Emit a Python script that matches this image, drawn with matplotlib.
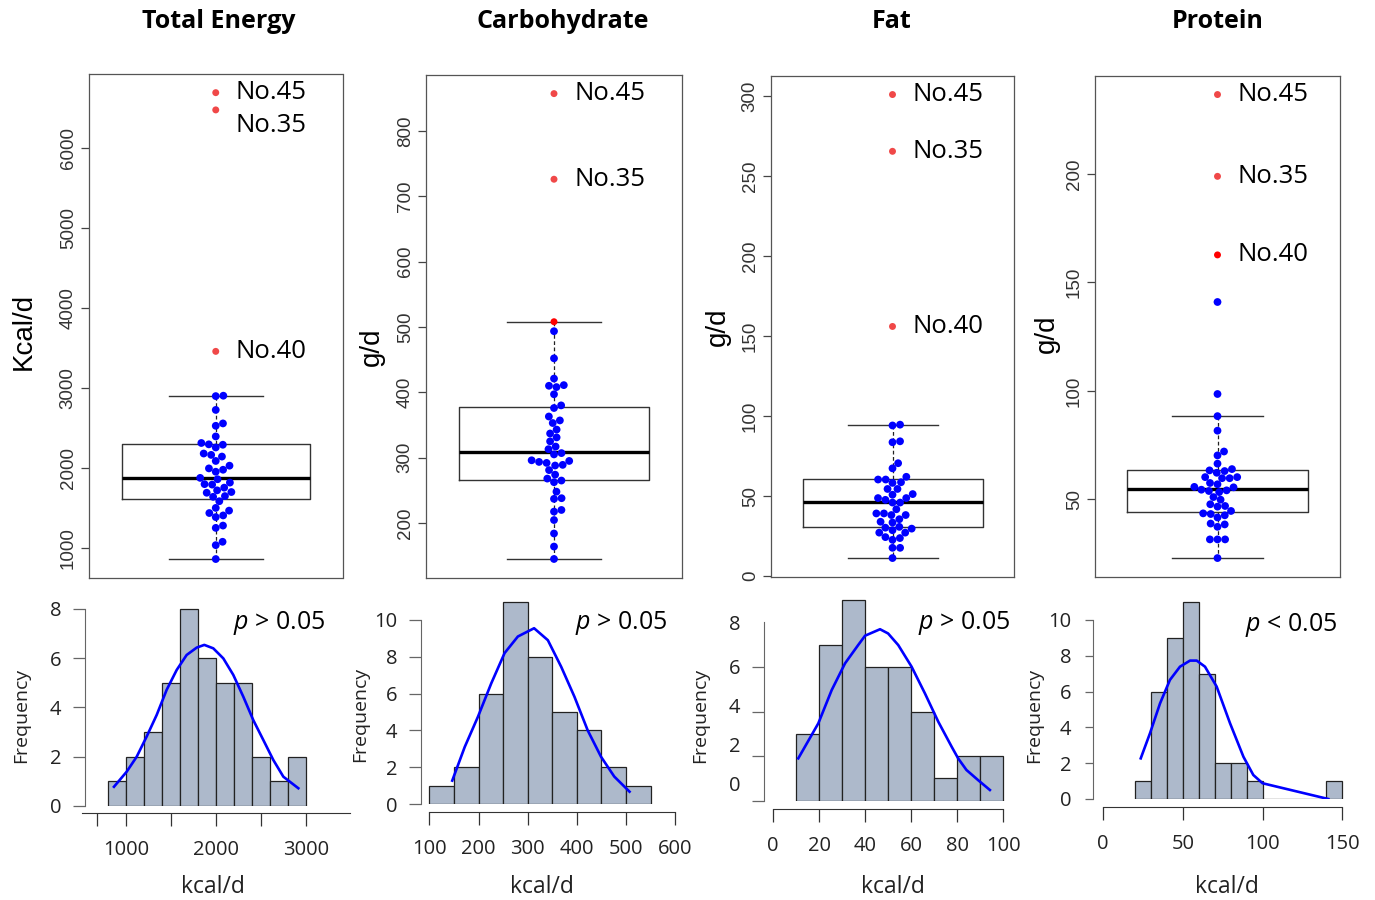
import numpy as np
import matplotlib
matplotlib.use("Agg")
import matplotlib.pyplot as plt

plt.rcParams['mathtext.fontset'] = 'custom'
plt.rcParams['mathtext.it'] = 'Open Sans:italic'
plt.rcParams['mathtext.rm'] = 'Open Sans'

W, H = 1375, 900

# ---------------- data ----------------
titles = ["Total Energy", "Carbohydrate", "Fat", "Protein"]
box_ylabels = ["Kcal/d", "g/d", "g/d", "g/d"]
hist_xlabel = "kcal/d"
p_texts = [r"$\it{p}$ > 0.05", r"$\it{p}$ > 0.05", r"$\it{p}$ > 0.05", r"$\it{p}$ < 0.05"]

energy_vals = [2900, 2905, 2727, 2528, 2558, 2395, 2313, 2296, 2257, 2291, 2181, 2164,
               2143, 2088, 2029, 1995, 1978, 1953, 1876, 1859, 1798, 1817, 1792, 1754,
               1720, 1699, 1690, 1648, 1639, 1584, 1500, 1466, 1436, 1406, 1385, 1279,
               1250, 1076, 1034, 860]
carb_vals = [493.5, 452, 421, 410, 408, 411, 397, 380, 376, 363, 357, 353, 343, 337, 331,
             325, 317, 313, 307, 305, 296, 292, 289, 288, 293.5, 295, 281, 274, 268, 265,
             262.5, 248, 238, 237, 220, 217.5, 204.6, 184, 164, 145]
fat_vals = [94.1, 94.6, 83.6, 84.2, 70.5, 67.3, 62, 60.3, 60.3, 58.6, 58.2, 54.4, 54.4,
            51.2, 50.8, 48.7, 48.7, 47.6, 45.9, 45.9, 41.7, 39.1, 39.1, 38.1, 38.1, 35.5,
            33.9, 33.4, 30.2, 29.6, 30.7, 28.6, 27.1, 27.1, 24.3, 23.7, 22.6, 17.6, 17.6, 11.2]
protein_vals = [141, 98.6, 88.4, 81.7, 72.1, 70.3, 66.5, 64.0, 63.4, 63.1, 62.3, 60.3, 59.8,
                59.8, 60.3, 57.6, 57, 55.8, 55.6, 54.5, 54.2, 53.9, 53.4, 51.1, 49.9, 47.8,
                47, 46.7, 44.7, 43.6, 43.3, 42.7, 41.7, 38.9, 38.5, 37.4, 31.6, 31.6, 31.6, 23]

energy_out = [6699, 6483, 3460]
carb_out = [857, 726, 508]
fat_out = [301, 265.5, 156]
protein_out = [236.6, 198.9, 162.7]
energy_out_labels = ["No.45", "No.35", "No.40"]
carb_out_labels = ["No.45", "No.35", ""]
fat_out_labels = ["No.45", "No.35", "No.40"]
protein_out_labels = ["No.45", "No.35", "No.40"]

# box stats: q1, median, q3, whisker low, whisker high
energy_box = [1610, 1872, 2296, 860, 2905]
carb_box = [266, 308.5, 377.8, 145, 508]
fat_box = [30.5, 46.5, 60.5, 11.2, 94.6]
protein_box = [44.4, 55.0, 63.6, 23.0, 88.4]

energy_yticks = [1000, 2000, 3000, 4000, 5000, 6000]
carb_yticks = [200, 300, 400, 500, 600, 700, 800]
fat_yticks = [0, 50, 100, 150, 200, 250, 300]
protein_yticks = [50, 100, 150, 200]

# histograms
energy_edges = [800, 1000, 1200, 1400, 1600, 1800, 2000, 2200, 2400, 2600, 2800, 3000]
energy_counts = [1, 2, 3, 5, 8, 6, 5, 5, 2, 1, 2]
carb_edges = [100, 150, 200, 250, 300, 350, 400, 450, 500, 550]
carb_counts = [1, 2, 6, 11, 8, 5, 4, 2, 1]
fat_edges = [10, 20, 30, 40, 50, 60, 70, 80, 90, 100]
fat_counts = [3, 7, 9, 6, 6, 4, 1, 2, 2]
protein_edges = [20, 30, 40, 50, 60, 70, 80, 90, 100, 110, 120, 130, 140, 150]
protein_counts = [1, 6, 9, 11, 7, 2, 2, 1, 0, 0, 0, 0, 1]

energy_curve_x = [863, 1004, 1116, 1227, 1339, 1450, 1562, 1673, 1785, 1870, 1970, 2082,
                  2193, 2305, 2416, 2528, 2639, 2751, 2918]
energy_curve_y = [0.77, 1.38, 1.99, 2.81, 3.69, 4.71, 5.52, 6.13, 6.43, 6.54, 6.40, 5.99,
                  5.32, 4.43, 3.48, 2.67, 1.86, 1.18, 0.71]
carb_curve_x = [146.6, 172, 199, 226, 253, 280, 313, 341, 368, 395, 422, 449, 476, 507]
carb_curve_y = [1.27, 3.1, 4.75, 6.56, 8.2, 9.1, 9.55, 8.9, 7.46, 5.83, 4.0, 2.57, 1.49, 0.67]
fat_curve_x = [11, 19.7, 25.5, 31.3, 37, 40, 46.5, 50, 54.4, 60.2, 66, 71.8, 77.6, 80.4,
               84, 89, 94.2]
fat_curve_y = [1.9, 3.47, 4.96, 6.16, 6.98, 7.4, 7.69, 7.5, 6.98, 6.01, 4.81, 3.54, 2.42,
               1.9, 1.38, 0.93, 0.48]
protein_curve_x = [23.6, 29.4, 35.7, 41.9, 48.2, 54.5, 58.7, 63.9, 71.2, 79.6, 88, 94.2, 100, 141.2]
protein_curve_y = [2.27, 3.67, 5.34, 6.65, 7.39, 7.73, 7.73, 7.39, 6.28, 4.23, 2.36, 1.34, 0.88, 0.0]

energy_xticks = [671, 1000, 1500, 2000, 2500, 3000]
energy_xticklabels = ["", "1000", "", "2000", "", "3000"]
carb_xticks = [100, 200, 300, 400, 500, 600]
fat_xticks = [0, 20, 40, 60, 80, 100]
protein_xticks = [0, 50, 100, 150]
energy_hyticks = [0, 2, 4, 6, 8]
carb_hyticks = [0, 2, 4, 6, 8, 10]
fat_hyticks = [0, 2, 4, 6, 8]
fat_hytick_label_pos = [0.78, 2.54, 4.29, 6.04, 8.0]
protein_hyticks = [0, 2, 4, 6, 8, 10]

# ---------------- styling / layout ----------------
LIGHT_RED = '#F04848'
PURE_RED = '#FF0000'
BLUE = '#0000FF'
BAR = '#ADB9CB'
out_colors = [[LIGHT_RED] * 3, [LIGHT_RED, LIGHT_RED, PURE_RED], [LIGHT_RED] * 3,
              [LIGHT_RED, LIGHT_RED, PURE_RED]]
label_dy = [[0, -16, 0], [0, 0, 0], [0, 0, 0], [0, 0, 0]]

fig = plt.figure(figsize=(W / 100, H / 100), dpi=100)


def add_ax(l, r, t, b):
    return fig.add_axes([l / W, 1 - b / H, (r - l) / W, (b - t) / H])


def swarm_offsets(vals, ypx, d):
    vals = np.asarray(vals, float)
    order = np.argsort(vals)
    xs = np.zeros(len(vals))
    py, pxl = [], []
    for i in order:
        y = vals[i] * ypx
        cands = [0.0]
        for yy, xx in zip(py, pxl):
            dy = abs(y - yy)
            if dy < d:
                dx = np.sqrt(d * d - dy * dy)
                cands += [xx + dx, xx - dx]
        cands = sorted(cands, key=lambda c: (round(abs(c), 6), -c))
        for c in cands:
            if all((c - xx) ** 2 + (y - yy) ** 2 >= d * d - 1e-6 for yy, xx in zip(py, pxl)):
                xs[i] = c
                break
        py.append(y)
        pxl.append(xs[i])
    return xs


top_frames = [(89, 342.5, 74, 577.7), (426, 682, 75, 577.6), (771, 1014, 76, 576.6),
              (1095, 1340, 76, 576.6)]
all_vals = [energy_vals, carb_vals, fat_vals, protein_vals]
all_out = [energy_out, carb_out, fat_out, protein_out]
all_out_labels = [energy_out_labels, carb_out_labels, fat_out_labels, protein_out_labels]
all_box = [energy_box, carb_box, fat_box, protein_box]
all_yticks = [energy_yticks, carb_yticks, fat_yticks, protein_yticks]
title_pos = [219, 563, 892, 1218]
ylabel_pos = [(24, 331), (372, 347), (718, 327), (1047, 334)]

for k in range(4):
    l, r, t, b = top_frames[k]
    ax = add_ax(l, r, t, b)
    vals = np.asarray(all_vals[k], float)
    outs = np.asarray(all_out[k], float)
    everything = np.concatenate([vals, outs])
    lo, hi = everything.min(), everything.max()
    pad = 0.04 * (hi - lo)
    ax.set_ylim(lo - pad, hi + pad)
    ax.set_xlim(0.46, 1.54)
    q1, med, q3, wlo, whi = all_box[k]
    stats = [dict(q1=q1, med=med, q3=q3, whislo=wlo, whishi=whi, fliers=[])]
    ax.bxp(stats, positions=[1], widths=0.8, showfliers=False, patch_artist=False,
           boxprops=dict(color='#333333', lw=1.0),
           medianprops=dict(color='black', lw=2.4),
           whiskerprops=dict(color='#222222', lw=0.9, linestyle=(0, (3, 2))),
           capprops=dict(color='#333333', lw=1.0), capwidths=0.4, zorder=1)
    ypx = (b - t) / (hi + pad - (lo - pad))
    xpx = (r - l) / 1.08
    offs = swarm_offsets(vals, ypx, 7.6) / xpx
    ax.scatter(1 + offs, vals, s=5.6 ** 2, color=BLUE, edgecolors='none', zorder=3)
    for v, lab, c, dy in zip(outs, all_out_labels[k], out_colors[k], label_dy[k]):
        ax.scatter([1], [v], s=5.0 ** 2, color=c, edgecolors='none', zorder=4)
        if lab:
            ax.annotate(lab, (1, v), xytext=(14.5, dy * 0.72), textcoords='offset points',
                        ha='left', va='center', fontsize=18.5, family='Open Sans', color='black')
    ax.set_xticks([])
    ax.set_yticks(all_yticks[k])
    ax.tick_params(axis='y', direction='out', length=5.8, width=0.9, color='#444444',
                   labelsize=13.5, pad=3, labelcolor='#333333')
    for lab in ax.get_yticklabels():
        lab.set_rotation(90)
        lab.set_va('center')
        lab.set_family('Liberation Sans')
    for s in ax.spines.values():
        s.set_color('#555555')
        s.set_linewidth(0.9)
    fig.text(title_pos[k] / W, 1 - 22 / H, titles[k], ha='center', va='center',
             fontsize=18, fontweight='bold', family='Open Sans')
    fig.text(ylabel_pos[k][0] / W, 1 - ylabel_pos[k][1] / H, box_ylabels[k], rotation=90,
             ha='center', va='center', fontsize=20, family='Liberation Sans')

# ---------------- histograms ----------------
hist_frames = [(85, 350, 594, 805.7), (421, 680, 594, 804), (764, 1012, 594, 800.7),
               (1093.3, 1345, 594, 799)]
hist_xlims = [(540, 3494), (83.1, 609.6), (-3.89, 103.8), (-6.15, 151.7)]
hist_ytop = [8.61, 11.41, 9.27, 11.45]
hist_bounds = [(507, 3494), (100, 600), (0, 100), (0, 150)]
hist_out = [5.5, 5.5, 6.0, 6.0]
all_edges = [energy_edges, carb_edges, fat_edges, protein_edges]
all_counts = [energy_counts, carb_counts, fat_counts, protein_counts]
all_cx = [energy_curve_x, carb_curve_x, fat_curve_x, protein_curve_x]
all_cy = [energy_curve_y, carb_curve_y, fat_curve_y, protein_curve_y]
all_xticks = [energy_xticks, carb_xticks, fat_xticks, protein_xticks]
all_xticklabels = [energy_xticklabels, [str(v) for v in carb_xticks],
                   [str(v) for v in fat_xticks], [str(v) for v in protein_xticks]]
all_hyticks = [energy_hyticks, carb_hyticks, fat_hyticks, protein_hyticks]
freq_pos = [(21, 715), (360, 714), (700, 715), (1034, 715)]
xlab_pos = [(213, 887), (542, 887), (893, 887), (1227, 887)]
p_pos = [(325, 623), (667, 623), (1010, 623), (1337, 625)]

for k in range(4):
    l, r, t, b = hist_frames[k]
    ax = add_ax(l, r, t, b)
    edges = np.asarray(all_edges[k], float)
    counts = np.asarray(all_counts[k], float)
    ax.bar(edges[:-1], counts, width=np.diff(edges), align='edge', color=BAR,
           edgecolor='#222222', linewidth=0.9, zorder=2)
    ax.plot(all_cx[k], all_cy[k], color=BLUE, lw=1.9, zorder=3)
    ax.set_xlim(*hist_xlims[k])
    ax.set_ylim(0, hist_ytop[k])
    ax.patch.set_alpha(0)
    for s in ['top', 'right']:
        ax.spines[s].set_visible(False)
    ax.spines['bottom'].set_position(('outward', hist_out[k]))
    ax.spines['bottom'].set_bounds(*hist_bounds[k])
    ax.spines['bottom'].set_color('#333333')
    ax.spines['left'].set_bounds(0, all_hyticks[k][-1])
    ax.spines['left'].set_color('#666666')
    ax.set_xticks(all_xticks[k])
    ax.set_xticklabels(all_xticklabels[k])
    ax.tick_params(axis='x', direction='out', length=9.5, width=0.9, color='#333333',
                   labelsize=14.5, pad=10)
    if k == 2:
        ax.set_yticks(fat_hytick_label_pos)
        ax.set_yticklabels([str(v) for v in fat_hyticks])
        ax.set_yticks(fat_hyticks, minor=True)
        ax.tick_params(axis='y', which='major', length=0, pad=17, labelsize=14.5)
        ax.tick_params(axis='y', which='minor', direction='out', length=8.6, width=0.9,
                       color='#666666')
    else:
        ax.set_yticks(all_hyticks[k])
        ax.tick_params(axis='y', direction='out', length=8.6 if k < 3 else 6, width=0.9,
                       color='#666666', labelsize=14.5, pad=8.5 if k < 3 else 10)
    for lab in ax.get_xticklabels() + ax.get_yticklabels():
        lab.set_family('Open Sans')
        lab.set_color('#222222')
    fig.text(freq_pos[k][0] / W, 1 - freq_pos[k][1] / H, "Frequency", rotation=90,
             ha='center', va='center', fontsize=14, family='Open Sans', color='#222222')
    fig.text(xlab_pos[k][0] / W, 1 - xlab_pos[k][1] / H, hist_xlabel, ha='center',
             va='center', fontsize=16.5, family='Open Sans', color='#222222')
    fig.text(p_pos[k][0] / W, 1 - p_pos[k][1] / H, p_texts[k], ha='right', va='center',
             fontsize=18, family='Open Sans', color='black')

fig.savefig('out.png', dpi=100)
